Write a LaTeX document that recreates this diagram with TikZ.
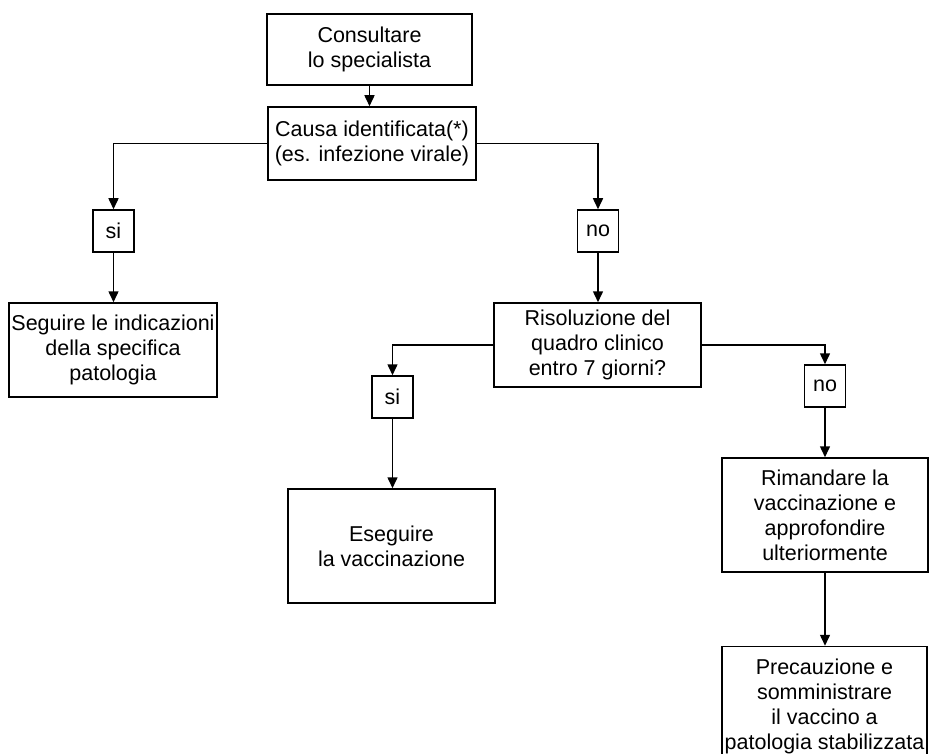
\documentclass[tikz,border=0pt]{standalone}
\usepackage{fontspec}
\setmainfont{Liberation Sans}
\usetikzlibrary{arrows.meta}
\begin{document}
\begin{tikzpicture}[x=1pt,y=-1pt,
  box/.style={draw, line width=1.5pt, align=center, inner sep=0pt,
    font=\fontsize{21.5}{25}\selectfont},
  small/.style={box, minimum width=41pt, minimum height=42pt},
  arr/.style={line width=1.5pt, -{Triangle[width=10pt,length=11pt]}}]
\useasboundingbox (0,0) rectangle (929,754);
\node[box, minimum width=205pt, minimum height=71pt] (b1) at (369.5,49.5) {Consultare\\lo specialista};
\node[box, minimum width=208pt, minimum height=73pt] (b2) at (372,143.5) {Causa identificata(*)\\(es. infezione virale)};
\node[small] (si1) at (113.5,231) {si};
\node[small] (no1) at (598,231) {no};
\node[box, minimum width=208pt, minimum height=94pt] (b5) at (113,350) {Seguire le indicazioni\\della specifica\\patologia};
\node[box, minimum width=207pt, minimum height=84pt] (b6) at (597.5,345) {Risoluzione del\\quadro clinico\\entro 7 giorni?};
\node[small] (si2) at (392.5,397) {si};
\node[small] (no2) at (825,386) {no};
\node[box, minimum width=207pt, minimum height=114pt] (b9) at (391.5,546) {Eseguire\\la vaccinazione};
\node[box, minimum width=206pt, minimum height=114pt] (b10) at (825,515) {Rimandare la\\vaccinazione e\\approfondire\\ulteriormente};
\node[box, minimum width=205pt, minimum height=115pt, text depth=0pt] (b11) at (824.5,704) {Precauzione e\\somministrare\\il vaccino a\\patologia stabilizzata};
\draw[arr] (b1.south) -- (b1.south |- b2.north);
\draw[arr] (b2.west) -| (si1.north);
\draw[arr] (b2.east) -| (no1.north);
\draw[arr] (si1.south) -- (b5.north -| si1.south);
\draw[arr] (no1.south) -- (b6.north -| no1.south);
\draw[arr] (b6.west) -| (si2.north);
\draw[arr] (b6.east) -| (no2.north);
\draw[arr] (si2.south) -- (b9.north -| si2.south);
\draw[arr] (no2.south) -- (b10.north -| no2.south);
\draw[arr] (b10.south) -- (b11.north -| b10.south);
\end{tikzpicture}
\end{document}
